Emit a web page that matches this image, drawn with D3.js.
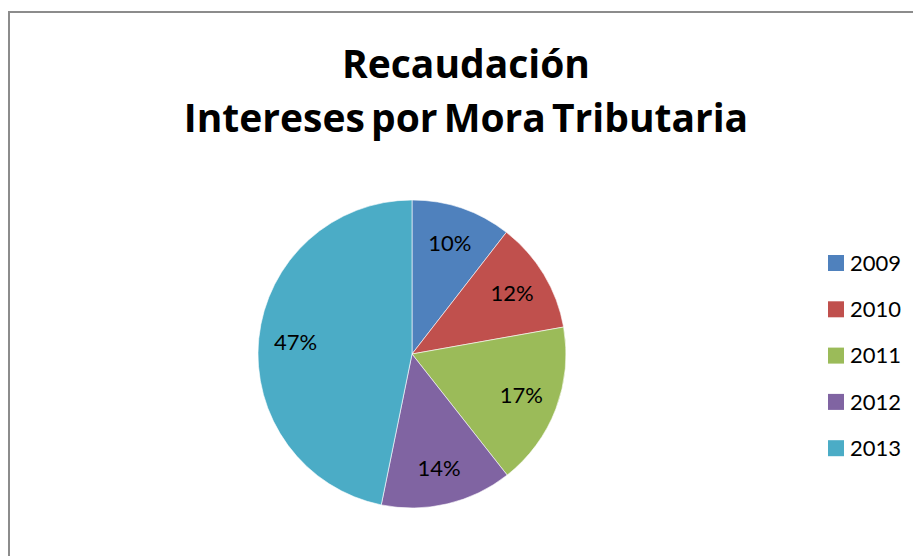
<!DOCTYPE html>
<html>
<head>
<meta charset="utf-8">
<script src="https://cdn.jsdelivr.net/npm/d3@7.9.0/dist/d3.min.js"></script>
<style>
  body { margin: 0; background: #fff; }
  svg { display: block; font-family: Lato, "Open Sans", sans-serif; }
</style>
</head>
<body>
<div id="chart"></div>
<script>
const years = ['2009', '2010', '2011', '2012', '2013'];
const shares = [10.5, 11.7, 17.2, 13.8, 46.8];
const labels = ['10%', '12%', '17%', '14%', '47%'];
const colors = ['#4f81bd', '#c0504d', '#9bbb59', '#8064a2', '#4bacc6'];
const titleLines = ['Recaudación', 'Intereses por Mora Tributaria'];

const width = 913;
const height = 556;

const svg = d3.select('#chart')
  .append('svg')
  .attr('width', width)
  .attr('height', height);

// chart frame
svg.append('rect')
  .attr('x', 9)
  .attr('y', 12)
  .attr('width', width + 20)
  .attr('height', height + 20)
  .attr('fill', 'none')
  .attr('stroke', '#8c8c8c')
  .attr('stroke-width', 2);

svg.append('g')
  .selectAll('text')
  .data(titleLines)
  .join('text')
  .attr('x', 466)
  .attr('y', (d, i) => 78 + i * 54)
  .attr('text-anchor', 'middle')
  .attr('font-family', '"Open Sans", sans-serif')
  .attr('font-size', 39)
  .attr('font-weight', 'bold')
  .attr('word-spacing', -4)
  .attr('fill', '#000')
  .text((d) => d);

const cx = 412;
const cy = 354;
const radius = 154;

const pie = d3.pie().sort(null).value((d) => d.value);
const arc = d3.arc().innerRadius(0).outerRadius(radius);
const labelArc = d3.arc().innerRadius(117).outerRadius(117);

const rows = years.map((y, i) => ({ year: y, value: shares[i], label: labels[i], color: colors[i] }));
const arcs = pie(rows);

const g = svg.append('g').attr('transform', `translate(${cx},${cy})`);

g.selectAll('path')
  .data(arcs)
  .join('path')
  .attr('d', arc)
  .attr('fill', (d) => d.data.color)
  .attr('stroke', '#fff')
  .attr('stroke-width', 0.6);

g.selectAll('text')
  .data(arcs)
  .join('text')
  .attr('transform', (d) => `translate(${labelArc.centroid(d)})`)
  .attr('text-anchor', 'middle')
  .attr('dy', '0.35em')
  .attr('font-size', 22)
  .attr('fill', '#000')
  .text((d) => d.data.label);

const legend = svg.append('g')
  .selectAll('g')
  .data(rows)
  .join('g')
  .attr('transform', (d, i) => `translate(828,${263 + i * 46.3})`);

legend.append('rect')
  .attr('x', 0)
  .attr('y', -8)
  .attr('width', 16)
  .attr('height', 16)
  .attr('fill', (d) => d.color);

legend.append('text')
  .attr('x', 22)
  .attr('dy', '0.35em')
  .attr('font-size', 22)
  .attr('fill', '#000')
  .text((d) => d.year);
</script>
</body>
</html>
